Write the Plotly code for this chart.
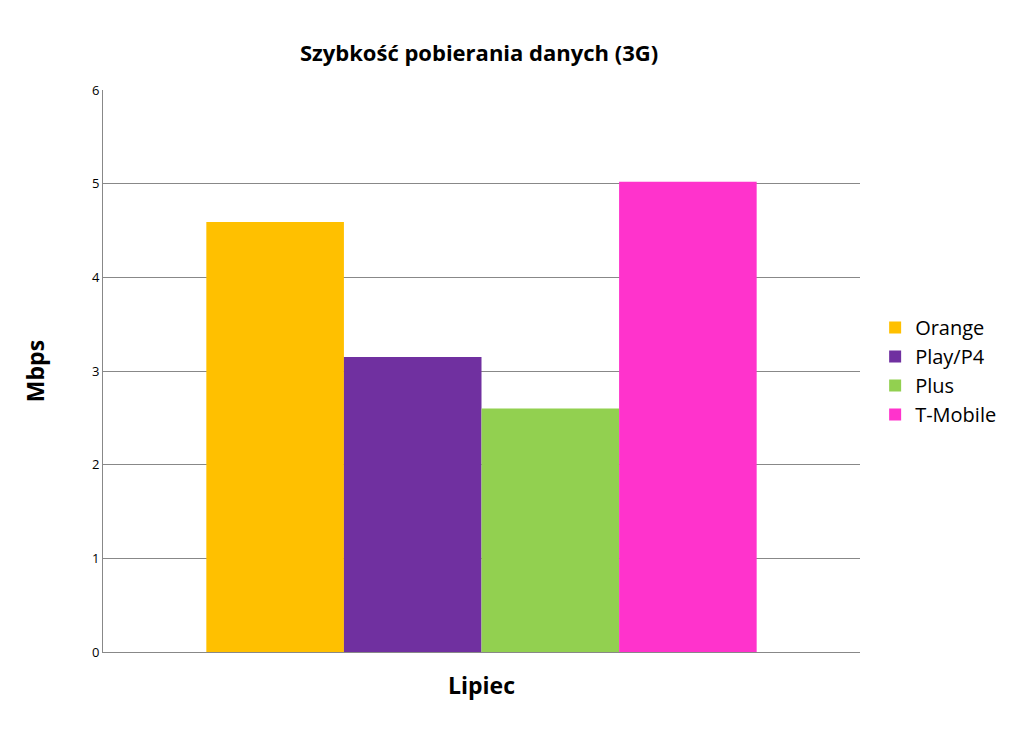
import plotly.graph_objects as go

# Download speed (3G), July
category = ["Lipiec"]
operators = ["Orange", "Play/P4", "Plus", "T-Mobile"]
speeds = [4.59, 3.15, 2.60, 5.02]
colors = ["#FFC000", "#7030A0", "#92D050", "#FF33CC"]

fig = go.Figure()
for name, val, col in zip(operators, speeds, colors):
    fig.add_trace(go.Bar(x=category, y=[val], name=name, marker_color=col,
                         marker_line_width=0))

fig.update_layout(
    title=dict(text="<b>Szybkość pobierania danych (3G)</b>", x=0.46, y=0.95,
               xanchor="center", font=dict(size=22, color="black")),
    font=dict(family="Open Sans", color="black"),
    barmode="group", bargap=0.273, bargroupgap=0,
    width=1024, height=742,
    margin=dict(l=95, r=172, t=82, b=98),
    paper_bgcolor="white", plot_bgcolor="white",
    legend=dict(x=1.02, y=0.5, yanchor="middle", font=dict(size=20),
                traceorder="normal"),
    xaxis=dict(showticklabels=False, title=dict(text="<b>Lipiec</b>", font=dict(size=23),
               standoff=25), showline=True, linecolor="#888"),
    yaxis=dict(range=[0, 6], dtick=1, gridcolor="#888", showline=True,
               linecolor="#888", tickfont=dict(size=13), ticks="",
               title=dict(text="<b>Mbps</b>", font=dict(size=23), standoff=40)),
)
fig.write_html("out.html")
